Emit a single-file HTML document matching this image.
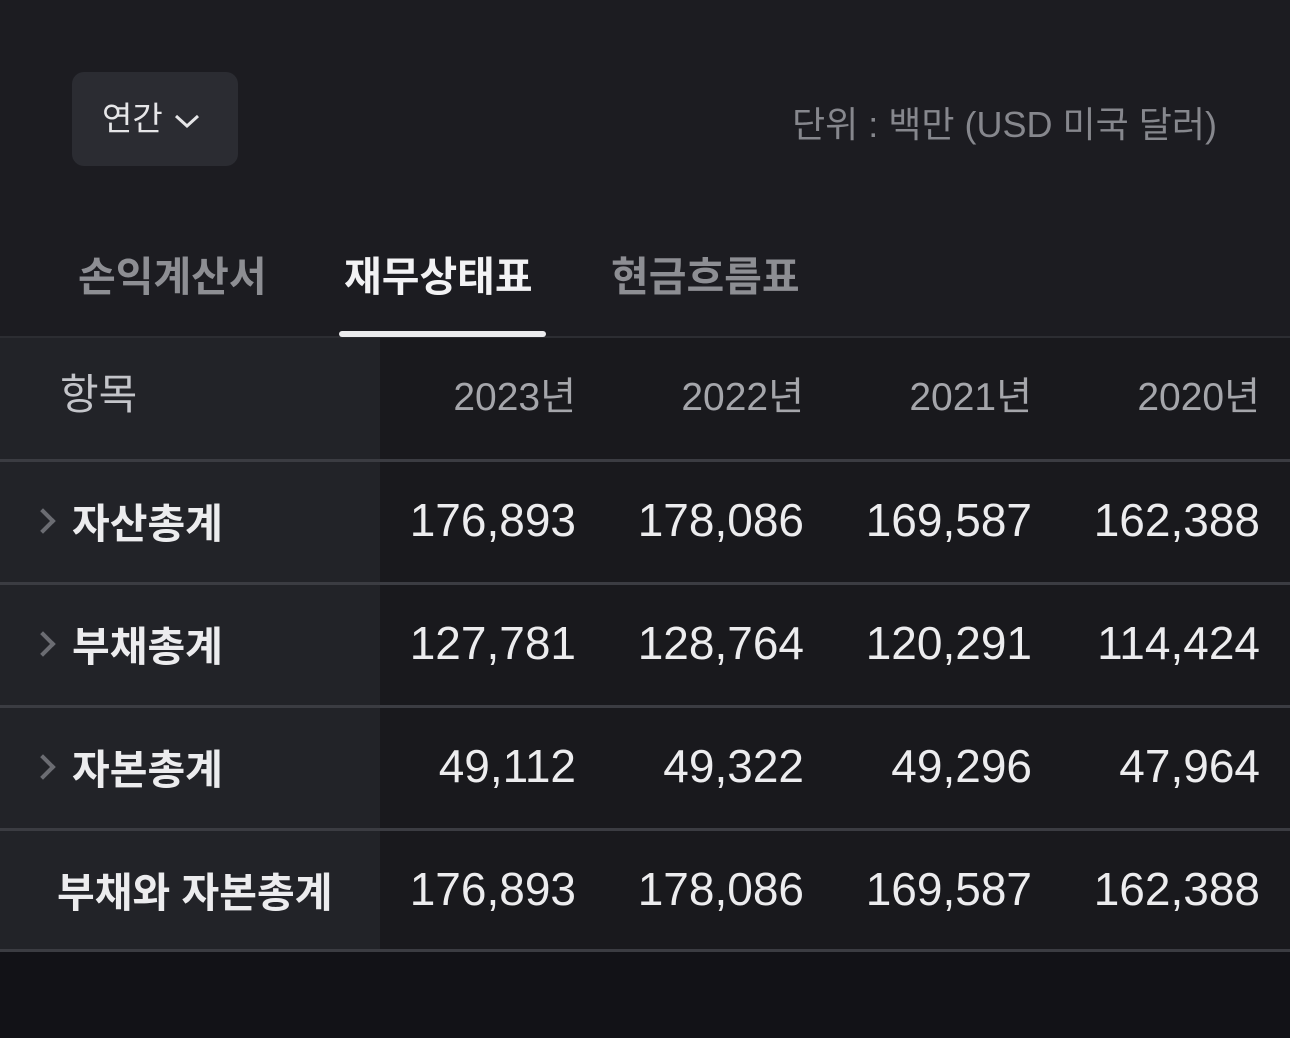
<!DOCTYPE html>
<html><head><meta charset="utf-8"><style>
body{margin:0;width:1290px;height:1038px;background:#121217;font-family:"Liberation Sans","Noto Sans CJK KR",sans-serif;position:relative;overflow:hidden;color:#e6e6e8}
.top{position:absolute;left:0;top:0;width:1290px;height:336px;background:#1c1c21}
.dd{position:absolute;left:72px;top:72px;width:166px;height:94px;border-radius:12px;background:#2b2c32;font-size:33px;line-height:94px;color:#e6e6e8}
.dd span{position:absolute;left:30px}
.unit{position:absolute;right:73px;top:96px;font-size:36px;color:#86878d}
.tab{position:absolute;top:243px;font-size:41px;font-weight:bold;color:#8d8e93}
.ul{position:absolute;left:339px;top:331px;width:207px;height:6px;border-radius:3px;background:#ececee}
.sep{position:absolute;left:0;top:336px;width:1290px;height:2px;background:#2c2d32}
.lc{position:absolute;left:0;top:338px;width:380px;height:612px;background:#222328}
.rc{position:absolute;left:380px;top:338px;width:910px;height:612px;background:#19191d}
.line{position:absolute;left:0;width:1290px;height:3px;background:#3b3c42}
.cell{position:absolute;text-align:right;width:220px;font-size:46px;line-height:60px;color:#ececee}
.yr{position:absolute;text-align:right;width:240px;font-size:39px;line-height:50px;color:#a5a6ab}
.lab{position:absolute;font-size:41px;font-weight:bold;color:#ececee}
.chev{position:absolute;left:34px;width:14px;height:14px;border-right:4px solid #6b6c72;border-top:4px solid #6b6c72;transform:rotate(45deg)}
</style></head><body>
<div class="top"></div>
<div class="dd"><span>연간 <svg width="30" height="20" viewBox="0 0 30 20" style="vertical-align:middle"><path d="M4 5 L15 15 L26 5" stroke="#e6e6e8" stroke-width="3" fill="none"/></svg></span></div>
<div class="unit">단위 : 백만 (USD 미국 달러)</div>
<div class="tab" style="left:78px">손익계산서</div>
<div class="tab" style="left:344px;color:#f2f2f4">재무상태표</div>
<div class="tab" style="left:611px">현금흐름표</div>
<div class="sep"></div>
<div class="ul"></div>
<div class="lc"></div>
<div class="rc"></div>
<div id="tbl"></div>
<script>
const years=["2023년","2022년","2021년","2020년"];
const labels=["자산총계","부채총계","자본총계","부채와 자본총계"];
const v2023=["176,893","127,781","49,112","176,893"];
const v2022=["178,086","128,764","49,322","178,086"];
const v2021=["169,587","120,291","49,296","169,587"];
const v2020=["162,388","114,424","47,964","162,388"];
const cols=[v2023,v2022,v2021,v2020];
const rights=[576,804,1032,1260];
const t=document.getElementById('tbl');
function add(html,cls,style){const d=document.createElement('div');d.className=cls;d.style.cssText=style;d.textContent=html;t.appendChild(d);return d;}
const h=add('항목','yr','left:60px;text-align:left;top:370px;font-size:42px;color:#c4c5ca');


years.forEach((y,i)=>{const d=add(y,'yr','left:'+(rights[i]-240)+'px;top:373px');

});
[459,582,705,828,949].forEach(y=>{const d=add('','line','top:'+y+'px');

});
labels.forEach((l,r)=>{const top=461+r*123;
const last=r==3;
const d=add(l,'lab','left:'+(last?57:72)+'px;top:'+(top+29)+'px');


if(!last){const c=add('','chev','top:'+(top+51)+'px');

}
cols.forEach((col,i)=>{const v=add(col[r],'cell','left:'+(rights[i]-220)+'px;top:'+(top+29)+'px');

});});
</script>
</body></html>
